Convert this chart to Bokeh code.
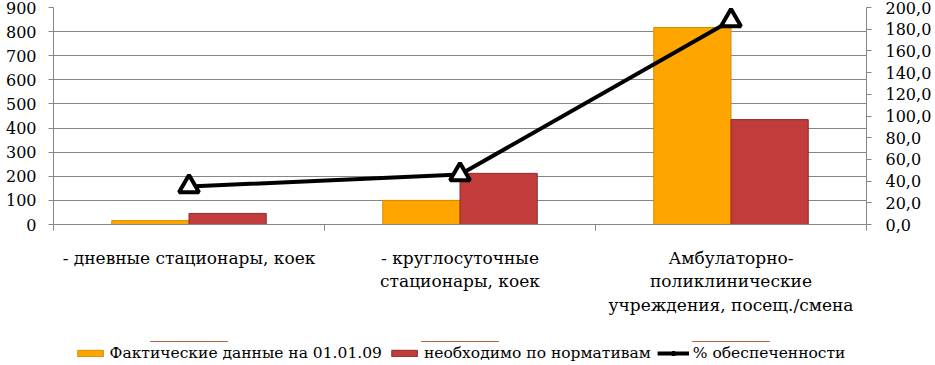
import numpy as np
from bokeh.plotting import figure
from bokeh.layouts import column
from bokeh.models import Range1d, LinearAxis, FixedTicker, Legend, LegendItem
from bokeh.embed import file_html
from bokeh.resources import INLINE

categories = ["- дневные стационары, коек",
              "- круглосуточные\nстационары, коек",
              "Амбулаторно-\nполиклинические\nучреждения, посещ./смена"]
actual = [16, 100, 817]
required = [46, 212, 435]
coverage = [35.0, 46.0, 188.0]
left_ticks = list(range(0, 901, 100))
right_ticks = list(range(0, 201, 20))
series_names = ["Фактические данные на 01.01.09", "необходимо по нормативам", "% обеспеченности"]

FONT = "DejaVu Serif"
FS = "16px"
GRID = "#868686"
ORANGE, ORANGE_EDGE = "#FFA500", "#D98A00"
RED, RED_EDGE = "#C23C3C", "#8E2A2A"

idx = np.arange(len(categories))
centers = idx + 0.5
bar_w = 0.285

p = figure(frame_width=813, frame_height=217, output_backend="svg", toolbar_location=None,
           x_range=Range1d(0, len(categories)), y_range=Range1d(0, 900),
           min_border_left=53, min_border_right=69, min_border_top=7, min_border_bottom=117)
p.outline_line_color = None
p.background_fill_color = "white"
p.border_fill_color = "white"
p.extra_y_ranges = {"pct": Range1d(0, 200)}

p.vbar(x=centers - bar_w / 2, top=actual, width=bar_w, bottom=0,
       fill_color=ORANGE, line_color=ORANGE_EDGE, line_width=1)
p.vbar(x=centers + bar_w / 2, top=required, width=bar_w, bottom=0,
       fill_color=RED, line_color=RED_EDGE, line_width=1)
p.line(x=centers, y=coverage, y_range_name="pct", line_color="black", line_width=4)
p.scatter(x=centers, y=coverage, y_range_name="pct", marker="triangle", size=20,
          fill_color="white", line_color="black", line_width=4)

# left axis
ya = p.yaxis[0]
ya.ticker = FixedTicker(ticks=left_ticks)
ya.axis_line_color = GRID
ya.major_tick_line_color = GRID
ya.major_tick_out = 5
ya.major_tick_in = 0
ya.minor_tick_line_color = None
ya.major_label_text_font = FONT
ya.major_label_text_font_size = FS
ya.major_label_text_color = "black"
ya.major_label_standoff = 12

# right axis
ra = LinearAxis(y_range_name="pct", ticker=FixedTicker(ticks=right_ticks),
                major_label_overrides={t: f"{t},0" for t in right_ticks})
ra.axis_line_color = GRID
ra.major_tick_line_color = GRID
ra.major_tick_out = 5
ra.major_tick_in = 0
ra.minor_tick_line_color = None
ra.major_label_text_font = FONT
ra.major_label_text_font_size = FS
ra.major_label_text_color = "black"
ra.major_label_standoff = 14
p.add_layout(ra, "right")

# x axis: labels at category centres, ticks (minor) at category boundaries
xa = p.xaxis[0]
xa.ticker = FixedTicker(ticks=list(centers), minor_ticks=list(range(len(categories) + 1)))
xa.major_label_overrides = {float(c): lab for c, lab in zip(centers, categories)}
xa.axis_line_color = GRID
xa.major_tick_line_color = None
xa.major_tick_out = 6
xa.major_tick_in = 0
xa.minor_tick_line_color = GRID
xa.minor_tick_out = 6
xa.minor_tick_in = 0
xa.major_label_text_font = FONT
xa.major_label_text_font_size = "17px"
xa.major_label_text_color = "black"
xa.major_label_text_line_height = 1.18
xa.major_label_standoff = 17

p.xgrid.visible = False
p.ygrid.ticker = FixedTicker(ticks=left_ticks)
p.ygrid.grid_line_color = GRID

# legend strip below the chart (series drawn out of view, only legend shows)
q = figure(width=935, height=24, output_backend="svg", toolbar_location=None,
           x_range=Range1d(0, len(categories)), y_range=Range1d(-20, -10),
           x_axis_location=None, y_axis_location=None,
           min_border_left=0, min_border_right=0, min_border_top=0, min_border_bottom=0)
q.outline_line_color = None
q.grid.visible = False
q.background_fill_color = "white"
q.border_fill_color = "white"
l1 = q.vbar(x=centers, top=actual, bottom=0, width=bar_w, fill_color=ORANGE, line_color=ORANGE_EDGE)
l2 = q.vbar(x=centers, top=required, bottom=0, width=bar_w, fill_color=RED, line_color=RED_EDGE)
l3 = q.line(x=centers, y=coverage, line_color="black", line_width=4)
l4 = q.scatter(x=centers, y=coverage, marker="triangle", size=14, fill_color="white",
               line_color="black", line_width=3)

legend = Legend(items=[LegendItem(label=series_names[0], renderers=[l1]),
                       LegendItem(label=series_names[1], renderers=[l2]),
                       LegendItem(label=series_names[2], renderers=[l3, l4])],
                orientation="horizontal", location="center",
                label_text_font=FONT, label_text_font_size="15.5px", label_text_color="black",
                glyph_width=32, glyph_height=8, label_standoff=4, spacing=6,
                border_line_color=None, background_fill_alpha=0, padding=2, margin=0)
q.add_layout(legend, "center")

layout = column(p, q, spacing=0)
open("out.html", "w").write(file_html(layout, INLINE))
